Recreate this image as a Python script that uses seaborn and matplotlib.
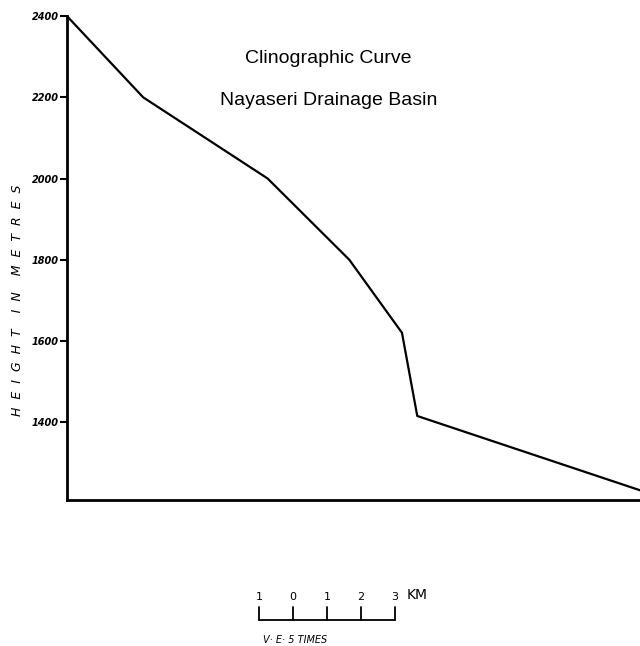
"""Clinographic curve of the Nayaseri drainage basin."""
import matplotlib
matplotlib.use("Agg")
import matplotlib.pyplot as plt
import pandas as pd
import seaborn as sns

# horizontal distance (km) and height (m) at each break of slope
distance_km = [0.0, 2.24, 5.9, 8.3, 9.85, 10.3, 16.85]
height_m = [2400, 2200, 2000, 1800, 1620, 1415, 1232]
height_ticks = [1400, 1600, 1800, 2000, 2200, 2400]
scale_km = [-1, 0, 1, 2, 3]
scale_labels = ["1", "0", "1", "2", "3"]

sns.set_theme(style="ticks")
plt.rcParams["font.family"] = ["DejaVu Sans"]
plt.rcParams["text.color"] = "black"

df = pd.DataFrame({"km": distance_km, "height": height_m})

fig = plt.figure(figsize=(6.4, 6.46), dpi=100)
ax = fig.add_axes([0.1047, 0.226, 0.8953, 0.749])
sns.lineplot(data=df, x="km", y="height", color="black", lw=1.6, ax=ax,
             clip_on=False)
ax.set_xlim(0, 16.85)
ax.set_ylim(1208, 2400)

sns.despine(ax=ax)
for side in ("left", "bottom"):
    ax.spines[side].set_linewidth(2)
    ax.spines[side].set_color("black")
ax.set_xticks([])
ax.set_yticks(height_ticks)
ax.set_yticklabels([str(t) for t in height_ticks], fontsize=7,
                   style="italic", fontweight="bold", color="black")
ax.tick_params(axis="y", length=5, width=1.5, pad=1, color="black")
ax.set_xlabel("")
ax.set_ylabel("H  E  I  G  H  T    I  N    M  E  T  R  E  S", fontsize=9,
              style="italic", color="black")
ax.yaxis.set_label_coords(-0.075, 0.413)

fig.text(0.513, 0.91, "Clinographic Curve", ha="center", va="center",
         fontsize=14, family="Liberation Sans")
fig.text(0.513, 0.845, "Nayaseri Drainage Basin", ha="center", va="center",
         fontsize=14, family="Liberation Sans")

# scale bar under the plot, in the same km units as the x axis
x0 = 6.65  # where the "0" of the scale sits
bar_y, tick_top, lab_y = 913, 945, 970
ax.plot([x0 + scale_km[0], x0 + scale_km[-1]], [bar_y, bar_y],
        color="black", lw=1.3, clip_on=False)
for k, lab in zip(scale_km, scale_labels):
    ax.plot([x0 + k, x0 + k], [bar_y, tick_top], color="black", lw=1.3,
            clip_on=False)
    ax.text(x0 + k, lab_y, lab, ha="center", va="center", fontsize=8,
            clip_on=False)
ax.text(x0 + scale_km[-1] + 0.35, lab_y + 5, "KM", ha="left", va="center",
        fontsize=10, clip_on=False)
ax.text(x0 + scale_km[0] + 0.1, bar_y - 50, "V· E· 5 TIMES", ha="left",
        va="center", fontsize=7, style="italic", clip_on=False)

fig.savefig("out.png", dpi=100)
